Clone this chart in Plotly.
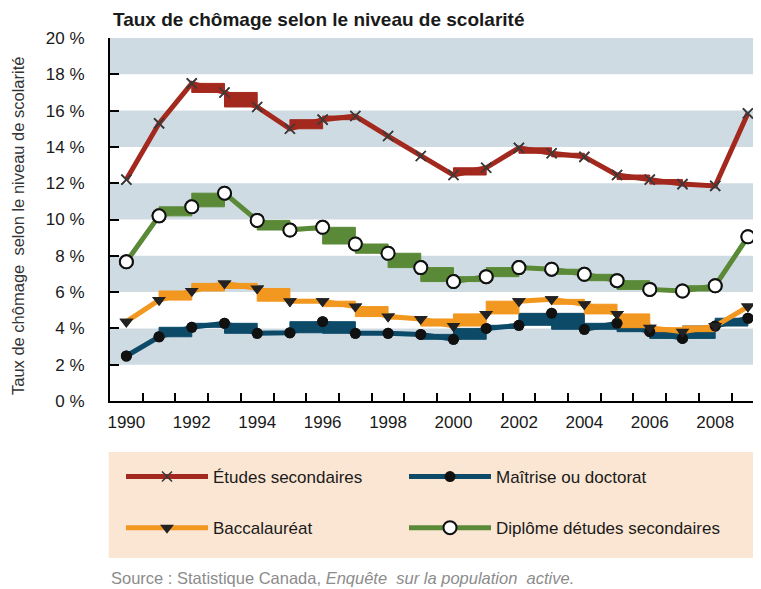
import plotly.graph_objects as go

# ---------------- data ----------------
years = list(range(1990, 2010))
etudes_secondaires = [12.2, 15.3, 17.5, 17.0, 16.2, 15.0, 15.5, 15.7, 14.6, 13.5,
                      12.45, 12.85, 13.95, 13.65, 13.45, 12.45, 12.2, 11.95, 11.85, 15.85]
maitrise_doctorat = [2.48, 3.54, 4.06, 4.28, 3.73, 3.76, 4.37, 3.73, 3.73, 3.67,
                     3.4, 4.0, 4.17, 4.83, 3.95, 4.28, 3.82, 3.45, 4.13, 4.56]
baccalaureat = [4.37, 5.56, 6.06, 6.48, 6.2, 5.5, 5.5, 5.2, 4.65, 4.52,
                4.13, 4.8, 5.5, 5.6, 5.33, 4.8, 4.04, 3.82, 4.13, 5.2]
diplome_secondaires = [7.67, 10.2, 10.7, 11.45, 9.95, 9.42, 9.57, 8.65, 8.14, 7.35,
                       6.58, 6.85, 7.35, 7.26, 6.98, 6.63, 6.15, 6.06, 6.35, 9.05]

series_names = ["Études secondaires", "Maîtrise ou doctorat",
                "Baccalauréat", "Diplôme détudes secondaires"]
y_tick_values = list(range(0, 21, 2))
y_tick_labels = [f"{v} %" for v in y_tick_values]
x_label_years = list(range(1990, 2009, 2))
band_lows = [2, 6, 10, 14, 18]

title_text = "Taux de chômage selon le niveau de scolarité"
y_title_text = "Taux de chômage  selon le niveau de scolarité"
source_text = "Source : Statistique Canada, <i>Enquête  sur la population  active.</i>"

# ---------------- styles ----------------
FONT = "Liberation Sans, Arial, sans-serif"
BOX_THRESHOLD = 0.95   # shallow segments rendered as blocks in the original
PAGE_OFFSET = 8        # default body margin of the html page

styles = {
    "Études secondaires": dict(color="#a3281d", symbol="x-thin", size=10, mcolor="#3a3a3a",
                               mline=dict(color="#3a3a3a", width=1.6), legend="legend", rank=1),
    "Maîtrise ou doctorat": dict(color="#0c4a68", symbol="circle", size=11, mcolor="#111111",
                                 mline=dict(color="#111111", width=0), legend="legend2", rank=1),
    "Baccalauréat": dict(color="#f2971f", symbol="triangle-down", size=12, mcolor="#222222",
                         mline=dict(color="#222222", width=0), legend="legend", rank=2),
    "Diplôme détudes secondaires": dict(color="#5a8a37", symbol="circle", size=13, mcolor="white",
                                        mline=dict(color="#111111", width=2), legend="legend2", rank=2),
}
values = {
    "Études secondaires": etudes_secondaires,
    "Maîtrise ou doctorat": maitrise_doctorat,
    "Baccalauréat": baccalaureat,
    "Diplôme détudes secondaires": diplome_secondaires,
}
draw_order = ["Études secondaires", "Diplôme détudes secondaires",
              "Maîtrise ou doctorat", "Baccalauréat"]


def block_polygons(xs, ys):
    bx, by = [], []
    for i in range(len(xs) - 1):
        if abs(ys[i + 1] - ys[i]) < BOX_THRESHOLD:
            lo, hi = min(ys[i], ys[i + 1]), max(ys[i], ys[i + 1])
            bx += [xs[i], xs[i + 1], xs[i + 1], xs[i], xs[i], None]
            by += [lo, lo, hi, hi, lo, None]
    return bx, by


fig = go.Figure()

# lines (legend entries) + blocks
for name in draw_order:
    st = styles[name]
    ys = values[name]
    fig.add_trace(go.Scatter(
        x=years, y=ys, name=name, mode="lines+markers",
        line=dict(color=st["color"], width=5),
        marker=dict(symbol=st["symbol"], size=st["size"], color=st["mcolor"], line=st["mline"]),
        legend=st["legend"], legendgroup=name, legendrank=st["rank"],
        hoverinfo="skip",
    ))
    bx, by = block_polygons(years, ys)
    fig.add_trace(go.Scatter(
        x=bx, y=by, mode="lines", fill="toself", fillcolor=st["color"],
        line=dict(color=st["color"], width=1), showlegend=False, hoverinfo="skip",
    ))

# markers on top
for name in draw_order:
    st = styles[name]
    fig.add_trace(go.Scatter(
        x=years, y=values[name], mode="markers", showlegend=False,
        marker=dict(symbol=st["symbol"], size=st["size"], color=st["mcolor"], line=st["mline"]),
        hoverinfo="skip",
    ))

# background bands
shapes = []
for lo in band_lows:
    shapes.append(dict(type="rect", xref="paper", yref="y", x0=0, x1=1, y0=lo, y1=lo + 2,
                       fillcolor="#cfdbe2", line=dict(width=0), layer="below"))
# legend background
shapes.append(dict(type="rect", xref="paper", yref="paper", x0=-0.002, x1=1.01,
                   y0=(401 - 558) / 363, y1=(401 - 452) / 363,
                   fillcolor="#fbe6d3", line=dict(width=0), layer="below"))

legend_common = dict(
    orientation="v", traceorder="grouped", tracegroupgap=26, itemwidth=82,
    font=dict(family=FONT, size=17, color="#1a1a1a"), bgcolor="rgba(0,0,0,0)",
    xanchor="left", yanchor="top", itemclick=False, itemdoubleclick=False,
)

W, H = 761 - PAGE_OFFSET, 589 - PAGE_OFFSET
fig.update_layout(
    width=W, height=H,
    margin=dict(l=110 - PAGE_OFFSET, r=0, t=38 - PAGE_OFFSET, b=H - (401 - PAGE_OFFSET)),
    paper_bgcolor="white", plot_bgcolor="white",
    font=dict(family=FONT, size=17, color="#1a1a1a"),
    shapes=shapes,
    title=dict(text="<b>" + title_text + "</b>", x=(113 - PAGE_OFFSET) / W, xanchor="left",
               y=1 - (19 - PAGE_OFFSET) / H, yanchor="middle",
               font=dict(family=FONT, size=19, color="#1a1a1a")),
    xaxis=dict(range=[1989.5, 2009.4], tickmode="array", tickvals=x_label_years,
               ticktext=[str(y) for y in x_label_years], ticks="", showgrid=False,
               zeroline=False, showline=True, linecolor="black", linewidth=2,
               ticklabelstandoff=5, tickfont=dict(size=17),
               minor=dict(tickmode="array", tickvals=[y + 0.5 for y in years[:-1]],
                          ticks="inside", ticklen=8, tickwidth=1.5, tickcolor="black",
                          showgrid=False)),
    yaxis=dict(range=[0, 20], tickmode="array", tickvals=y_tick_values, ticktext=y_tick_labels,
               ticks="inside", ticklen=9, tickwidth=1.5, tickcolor="black",
               showgrid=False, zeroline=False, showline=True, linecolor="black",
               linewidth=2, ticklabelstandoff=20, tickfont=dict(size=17)),
    legend=dict(x=(121 - 110) / 651, y=(401 - 459) / 363, **legend_common),
    legend2=dict(x=(404 - 110) / 651, y=(401 - 459) / 363, **legend_common),
    annotations=[
        dict(text=y_title_text, textangle=-90, xref="paper", yref="paper",
             x=(18 - 110) / 651, y=(401 - 226) / 363, xanchor="center", yanchor="middle",
             showarrow=False, font=dict(family=FONT, size=16.5, color="#333333")),
        dict(text=source_text, xref="paper", yref="paper",
             x=-0.002, y=(401 - 578) / 363, xanchor="left", yanchor="middle",
             showarrow=False, font=dict(family=FONT, size=16.5, color="#8c8c8c")),
    ],
)

fig.write_html("out.html")
